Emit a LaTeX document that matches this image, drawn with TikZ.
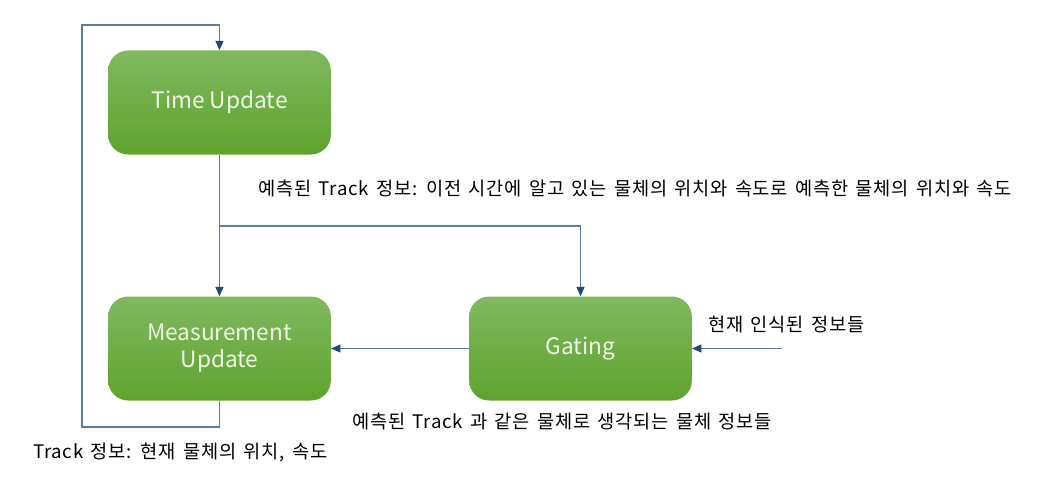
\documentclass[tikz,border=0pt]{standalone}
\usepackage{fontspec}
\setmainfont{Noto Sans CJK KR}
\newfontfamily\lblfont[LetterSpace=4,WordSpace=1.5]{Noto Sans CJK KR}
\usetikzlibrary{arrows.meta}
\definecolor{linec}{HTML}{5A7DA3}
\definecolor{tipc}{HTML}{1F4A78}
\definecolor{gtop}{HTML}{80B960}
\definecolor{gbot}{HTML}{5FA32E}
\definecolor{btext}{HTML}{EEF7E6}
\tikzset{
  box/.style={rounded corners=15pt, minimum width=167pt, minimum height=78pt,
    top color=gtop, bottom color=gbot, draw=none, text=btext,
    font=\fontsize{17}{20}\selectfont, align=center, inner sep=0pt},
  conn/.style={draw=linec, line width=0.9pt},
  arr/.style={conn, -{Triangle[length=7pt,width=6pt,fill=tipc,color=tipc]}},
  lbl/.style={font=\lblfont\fontsize{14}{16}\selectfont, text=black, inner sep=0pt}
}
\begin{document}
\begin{tikzpicture}[x=0.75pt,y=-0.75pt]
\useasboundingbox[fill=white] (0,0) rectangle (1063,492);
\node[box] (tu) at (219.5,102.5) {Time Update};
\node[box] (mu) at (219.5,348.5) {Measurement\\Update};
\node[box] (ga) at (580.5,348.5) {Gating};
\coordinate (br) at (219.5,226);
\coordinate (brg) at (580.5,226);
\coordinate (lb) at (219.5,427);
\coordinate (ll) at (82,427);
\coordinate (lt) at (82,25);
\coordinate (ltt) at (219.5,25);
\coordinate (inp) at (782,348.5);
\draw[arr] (tu.south) -- (mu.north);
\draw[arr] (br) -- (brg) -- (ga.north);
\draw[arr] (ga.west) -- (mu.east);
\draw[arr] (inp) -- (ga.east);
\draw[arr] (mu.south) -- (lb) -- (ll) -- (lt) -- (ltt) -- (tu.north);
\node[lbl, anchor=west] (t1) at (258,188) {예측된 Track 정보: 이전 시간에 알고 있는 물체의 위치와 속도로 예측한 물체의 위치와 속도};
\node[lbl, anchor=west] (t2) at (708,325) {현재 인식된 정보들};
\node[lbl, anchor=west] (t3) at (352,421) {예측된 Track 과 같은 물체로 생각되는 물체 정보들};
\node[lbl, anchor=west] (t4) at (33,453) {Track 정보: 현재 물체의 위치, 속도};
\end{tikzpicture}
\end{document}
